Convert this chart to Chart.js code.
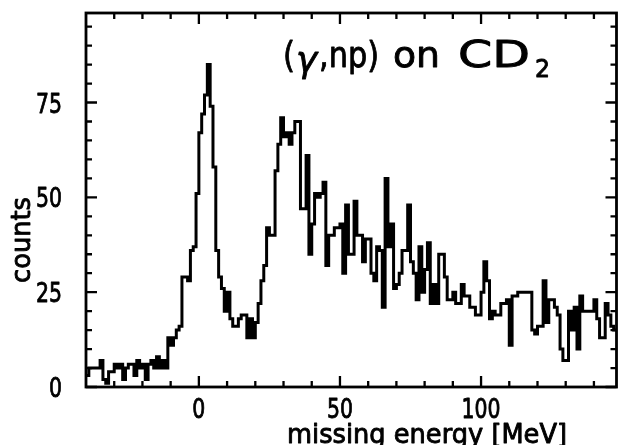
<!DOCTYPE html>
<html>
<head>
<meta charset="utf-8">
<script src="https://cdn.jsdelivr.net/npm/chart.js@4.4.0/dist/chart.umd.min.js"></script>
<style>
html,body{margin:0;padding:0;background:#fff}
</style>
</head>
<body>
<canvas id="myChart" width="618" height="445"></canvas>
<script>
// histogram, 1 MeV bins starting at -40 MeV
const binStart=-40;
const binWidth=1;
const counts=[
  3,5,5,5,5,7,2,1,4,4,
  6,5,6,2,5,6,6,3,7,5,
  6,2,6,7,5,8,5,7,5,13,
  11,13,15,16,29,29,28,36,37,51,
  67,72,77,85,74,58,36,29,26,20,
  25,18,16,16,18,19,19,13,18,13,
  17,22,28,32,42,40,40,57,64,71,
  66,67,64,67,70,70,47,47,61,35,
  43,51,50,51,54,32,40,40,42,42,
  43,30,48,35,35,49,40,40,33,39,
  39,30,28,37,36,21,55,37,43,26,
  27,30,36,36,48,33,30,23,37,25,
  31,38,22,27,22,35,35,29,23,23,
  25,22,22,27,24,24,21,21,19,19,
  25,33,28,18,20,19,19,22,22,23,
  11,24,24,25,25,25,25,25,15,14,
  16,16,28,17,23,23,21,19,10,7,
  7,20,15,21,10,24,20,20,20,20,
  23,18,13,13,22,19,16,15
];
const xMajor=[0,50,100];
const xMinor=[-30,-20,-10,10,20,30,40,60,70,80,90,110,120,130,140];
const yMajor=[0,25,50,75];
const yMinor=[5,10,15,20,30,35,40,45,55,60,65,70,80,85,90,95];

let pts=counts.map((c,i)=>({x:binStart+i*binWidth,y:c}));
pts.push({x:binStart+counts.length*binWidth,y:counts[counts.length-1]});

const FONT='"DejaVu Sans"';
// text squeezed to a width, slightly heavier than regular
function txt(ctx,s,x,y,size,align,w,italic){
  ctx.save();
  ctx.font=(italic?'italic ':'')+size+'px '+FONT;
  const sx=w?w/ctx.measureText(s).width:1;
  ctx.translate(x,y);ctx.scale(sx,1);
  ctx.textAlign=align;ctx.textBaseline='alphabetic';
  ctx.fillStyle='#000';ctx.strokeStyle='#000';
  ctx.lineWidth=0.9;ctx.lineJoin='round';
  ctx.fillText(s,0,0);
  ctx.strokeText(s,0,0);
  ctx.restore();
}

const frame={
  id:'frame',
  afterDatasetsDraw(chart){
    const ctx=chart.ctx, a=chart.chartArea;
    const xs=chart.scales.x, ys=chart.scales.y;
    ctx.save();
    ctx.strokeStyle='#000';
    ctx.lineWidth=2.8;
    ctx.strokeRect(a.left,a.top,a.right-a.left,a.bottom-a.top);
    ctx.lineWidth=2.3;
    ctx.beginPath();
    const tx=(v,len)=>{const p=xs.getPixelForValue(v);
      ctx.moveTo(p,a.bottom);ctx.lineTo(p,a.bottom-len);
      ctx.moveTo(p,a.top);ctx.lineTo(p,a.top+len);};
    const ty=(v,len)=>{const p=ys.getPixelForValue(v);
      ctx.moveTo(a.left,p);ctx.lineTo(a.left+len,p);
      ctx.moveTo(a.right,p);ctx.lineTo(a.right-len,p);};
    xMajor.forEach(v=>tx(v,11));
    xMinor.forEach(v=>tx(v,6));
    yMajor.forEach(v=>ty(v,11));
    yMinor.forEach(v=>ty(v,6));
    ctx.stroke();
    ctx.restore();

    xMajor.forEach(v=>{const s=String(v);
      txt(ctx,s,xs.getPixelForValue(v),418,27,'center',13*s.length);});
    yMajor.forEach(v=>{const s=String(v);
      txt(ctx,s,62,ys.getPixelForValue(v)+10,27,'right',13*s.length);});

    ctx.save();
    ctx.translate(30,240);ctx.rotate(-Math.PI/2);
    txt(ctx,'counts',0,0,26,'center',86);
    ctx.restore();
    txt(ctx,'missing energy [MeV]',287,443,26,'left',280);

    // (γ,np) on CD2
    txt(ctx,'(',283,67,36,'left',12);
    txt(ctx,'\u03b3',296,72,36,'left',21,true);
    txt(ctx,',np)',319,67,36,'left',60);
    txt(ctx,'on',393,67,36,'left',47);
    txt(ctx,'CD',458,67,37,'left',72);
    txt(ctx,'2',535,77,25,'left',15);
  }
};

const ctx=document.getElementById('myChart').getContext('2d');
new Chart(ctx,{
  type:'line',
  data:{datasets:[{
    data:pts,
    borderColor:'#000',
    borderWidth:3,
    pointRadius:0,
    stepped:true,
    fill:false
  }]},
  options:{
    responsive:false,
    animation:false,
    layout:{padding:{left:86,right:1.5,top:13,bottom:58}},
    plugins:{legend:{display:false},tooltip:{enabled:false}},
    scales:{
      x:{type:'linear',min:-40,max:148,display:false},
      y:{min:0,max:98.6,display:false}
    }
  },
  plugins:[frame]
});
</script>
</body>
</html>
